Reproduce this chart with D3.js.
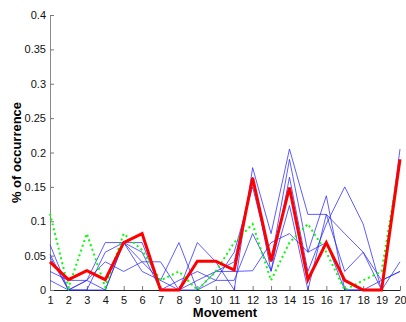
<!DOCTYPE html>
<html>
<head>
<meta charset="utf-8">
<script src="https://cdn.jsdelivr.net/npm/d3@7"></script>
<style>
  body { margin: 0; background: #fff; }
  svg { display: block; font-family: "Liberation Sans", Arial, sans-serif; }
</style>
</head>
<body>
<div id="chart"></div>
<script>
// movements 1..20
const movements = d3.range(1, 21)
const yTicks = [0, 0.05, 0.1, 0.15, 0.2, 0.25, 0.3, 0.35, 0.4]

// individual subjects (thin blue)
const subject1 = [0.066, 0, 0, 0.055, 0.069, 0.041, 0.041, 0, 0.069, 0.041, 0, 0.178, 0.082, 0.205, 0.110, 0.110, 0.082, 0.055, 0, 0.205]
const subject2 = [0.052, 0, 0.014, 0.069, 0.069, 0.069, 0, 0.014, 0.027, 0.014, 0.055, 0.150, 0.041, 0.190, 0.055, 0.137, 0, 0, 0, 0.190]
const subject3 = [0.027, 0.014, 0.014, 0, 0.069, 0.027, 0.014, 0.069, 0, 0.027, 0.041, 0.164, 0.027, 0.164, 0.027, 0.096, 0.150, 0.096, 0, 0.041]
const subject4 = [0.014, 0, 0.014, 0.041, 0.027, 0.041, 0.014, 0, 0, 0.014, 0.014, 0.082, 0.028, 0.123, 0, 0.110, 0.027, 0.055, 0.014, 0.027]
const subject5 = [0.048, 0, 0, 0, 0.069, 0.055, 0, 0, 0.014, 0.027, 0.027, 0.028, 0.069, 0.082, 0.055, 0.069, 0, 0, 0.014, 0.027]
// green dotted
const dotted = [0.111, 0.003, 0.082, 0.004, 0.082, 0.058, 0.014, 0.027, 0, 0.027, 0.069, 0.096, 0.014, 0.069, 0.096, 0.055, 0, 0.014, 0.027, 0.190]
// red thick
const mean = [0.041, 0.015, 0.028, 0.015, 0.069, 0.082, 0, 0, 0.042, 0.042, 0.029, 0.163, 0.042, 0.149, 0.015, 0.069, 0.014, 0, 0, 0.190]

const width = 406
const height = 322
const margin = { top: 15, right: 6, bottom: 32, left: 50 }

const svg = d3.select('#chart').append('svg')
  .attr('width', width)
  .attr('height', height)

const x = d3.scaleLinear().domain([1, 20]).range([margin.left, width - margin.right])
const y = d3.scaleLinear().domain([0, 0.4]).range([height - margin.bottom, margin.top])

const line = d3.line()
  .x((d, i) => x(movements[i]))
  .y((d) => y(d))

// axes
const xAxis = svg.append('g')
  .attr('transform', `translate(0,${y(0)})`)
  .call(d3.axisBottom(x).tickValues(movements).tickFormat(d3.format('d')).tickSizeInner(-4).tickSizeOuter(0).tickPadding(6))
xAxis.select('.domain').attr('stroke', '#222')
xAxis.selectAll('.tick line').attr('stroke', '#777')
xAxis.selectAll('text').attr('font-size', 11).attr('fill', '#111')

const yAxis = svg.append('g')
  .attr('transform', `translate(${x(1)},0)`)
  .call(d3.axisLeft(y).tickValues(yTicks).tickFormat((d) => d3.format('')(+d.toFixed(2))).tickSizeInner(-4).tickSizeOuter(0).tickPadding(4))
yAxis.select('.domain').attr('stroke', '#888')
yAxis.selectAll('.tick line').attr('stroke', '#777')
yAxis.selectAll('text').attr('font-size', 11).attr('fill', '#111')

// lines
const plot = svg.append('g').attr('fill', 'none').attr('stroke-linejoin', 'miter')

plot.selectAll('path.subject')
  .data([subject1, subject2, subject3, subject4, subject5])
  .join('path')
  .attr('class', 'subject')
  .attr('stroke', 'rgb(40,40,255)')
  .attr('stroke-opacity', 0.75)
  .attr('stroke-width', 1)
  .attr('d', line)

plot.append('path')
  .attr('stroke', 'rgb(0,255,0)')
  .attr('stroke-width', 2)
  .attr('stroke-dasharray', '2,3')
  .attr('d', line(dotted))

plot.append('path')
  .attr('stroke', 'rgb(255,0,0)')
  .attr('stroke-width', 3)
  .attr('d', line(mean))

// labels
svg.append('text')
  .attr('x', (x(1) + x(20)) / 2)
  .attr('y', 317)
  .attr('text-anchor', 'middle')
  .attr('font-size', 13)
  .attr('font-weight', 'bold')
  .text('Movement')

svg.append('text')
  .attr('transform', `translate(21,${(y(0) + y(0.4)) / 2}) rotate(-90)`)
  .attr('text-anchor', 'middle')
  .attr('font-size', 13)
  .attr('font-weight', 'bold')
  .text('% of occurrence')
</script>
</body>
</html>
